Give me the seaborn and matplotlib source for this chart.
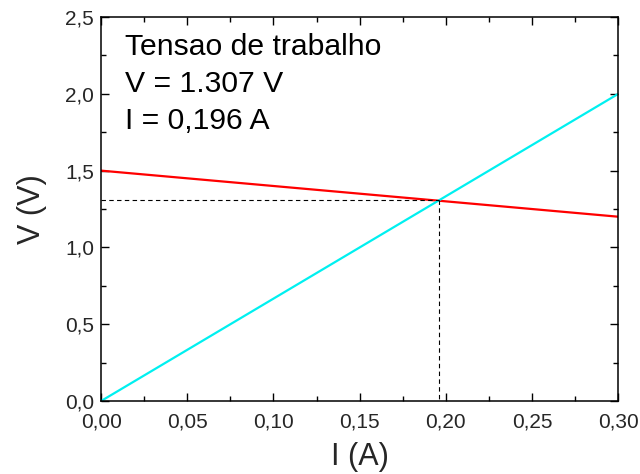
import matplotlib
matplotlib.use("Agg")
import matplotlib.pyplot as plt
import seaborn as sns
import pandas as pd
from matplotlib.ticker import MultipleLocator, FuncFormatter

sns.set_theme(style="white")
plt.rcParams['font.family'] = ['Liberation Sans', 'DejaVu Sans']

# data
current = [0.0, 0.30]
v_red = [1.5, 1.2]
v_cyan = [0.0, 2.0]
i_work = 0.196
v_work = 1.307
annot_lines = ["Tensao de trabalho", "V = 1.307 V", "I = 0,196 A"]

fig = plt.figure(figsize=(6.4, 4.74), dpi=100)
ax = fig.add_axes([0.158, 0.154, 0.808, 0.810])

df_red = pd.DataFrame({"I": current, "V": v_red})
df_cyan = pd.DataFrame({"I": current, "V": v_cyan})
sns.lineplot(data=df_red, x="I", y="V", color="#ff0000", lw=1.6, ax=ax)
sns.lineplot(data=df_cyan, x="I", y="V", color="#00f0f0", lw=1.6, ax=ax)

# dashed guides
df_h = pd.DataFrame({"I": [0.0, i_work], "V": [v_work, v_work]})
df_v = pd.DataFrame({"I": [i_work, i_work], "V": [v_work, 0.0]})
for d in (df_h, df_v):
    sns.lineplot(data=d, x="I", y="V", color="black", lw=0.8, ls=(0, (4, 3)),
                 estimator=None, sort=False, errorbar=None, ax=ax)

ax.set_xlim(0, 0.30)
ax.set_ylim(0, 2.5)
ax.xaxis.set_major_locator(MultipleLocator(0.05))
ax.xaxis.set_minor_locator(MultipleLocator(0.025))
ax.yaxis.set_major_locator(MultipleLocator(0.5))
ax.yaxis.set_minor_locator(MultipleLocator(0.25))
ax.xaxis.set_major_formatter(FuncFormatter(lambda v, p: f"{v:.2f}".replace(".", ",")))
ax.yaxis.set_major_formatter(FuncFormatter(lambda v, p: f"{v:.1f}".replace(".", ",")))

ax.tick_params(which="both", direction="in", top=True, right=True, bottom=True, left=True,
               color="black", width=1.0)
ax.tick_params(which="major", length=6, labelsize=15, pad=8)
ax.tick_params(axis="y", which="major", pad=5)
ax.tick_params(which="minor", length=3.5)

for s in ax.spines.values():
    s.set_visible(True)
    s.set_color("black")
    s.set_linewidth(1.1)

ax.set_xlabel("I (A)", fontsize=22, labelpad=8)
ax.set_ylabel("V (V)", fontsize=22, labelpad=13)

for k, t in enumerate(annot_lines):
    ax.text(125 / 640, 1 - (47 + 37 * k) / 474, t, transform=fig.transFigure,
            fontsize=21.7, va="center", ha="left", color="black")

fig.savefig("out.png", dpi=100)
